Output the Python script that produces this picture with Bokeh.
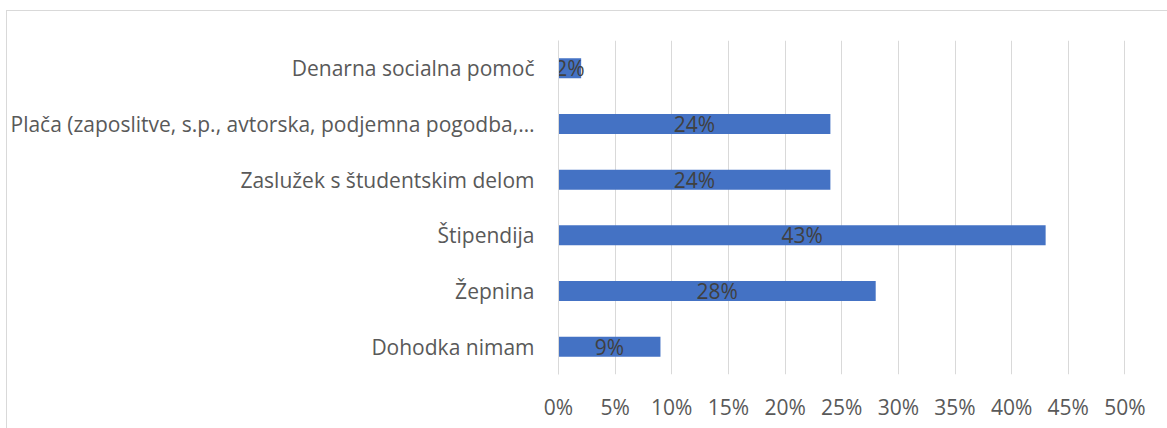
from bokeh.plotting import figure
from bokeh.models import Range1d, FactorRange, FixedTicker, ColumnDataSource, CustomJSTickFormatter
from bokeh.core.properties import value
from bokeh.embed import file_html
from bokeh.resources import INLINE

categories = [
    "Dohodka nimam",
    "Žepnina",
    "Štipendija",
    "Zaslužek s študentskim delom",
    "Plača (zaposlitve, s.p., avtorska, podjemna pogodba,…",
    "Denarna socialna pomoč",
]
values = [0.09, 0.28, 0.43, 0.24, 0.24, 0.02]
value_labels = ["9%", "28%", "43%", "24%", "24%", "2%"]
x_ticks = [0.0, 0.05, 0.10, 0.15, 0.20, 0.25, 0.30, 0.35, 0.40, 0.45, 0.50]

FONT = "Open Sans"

src = ColumnDataSource(dict(
    cat=categories,
    val=values,
    mid=[v / 2 for v in values],
    lab=value_labels,
))

p = figure(
    width=1161, height=418,
    y_range=FactorRange(*categories),
    x_range=Range1d(0, 0.5005),
    output_backend="svg", toolbar_location=None,
    min_border_left=550, min_border_right=43,
    min_border_top=29, min_border_bottom=55,
)
p.styles = {"border-left": "1px solid #d9d9d9", "border-top": "1px solid #d9d9d9",
            "margin-top": "10px", "margin-left": "6px"}
p.outline_line_color = None
p.background_fill_color = "white"
p.border_fill_color = "white"

p.hbar(y="cat", right="val", left=0, height=0.36, source=src,
       fill_color="#4472C4", line_color=None)

p.text(x="mid", y="cat", text="lab", source=src,
       text_align="center", text_baseline="middle",
       text_font=value(FONT), text_font_size="21px", text_color="#404040")

# axes
p.xaxis.ticker = FixedTicker(ticks=x_ticks)
p.xaxis.formatter = CustomJSTickFormatter(code="return Math.round(tick*100) + '%';")
p.xaxis.axis_line_color = None
p.xaxis.major_tick_line_color = None
p.xaxis.minor_tick_line_color = None
p.xaxis.major_label_text_font = FONT
p.xaxis.major_label_text_font_size = "21px"
p.xaxis.major_label_text_color = "#595959"
p.xaxis.major_label_standoff = 12

p.yaxis.axis_line_color = "#d9d9d9"
p.yaxis.axis_line_width = 1
p.yaxis.major_tick_line_color = None
p.yaxis.minor_tick_line_color = None
p.yaxis.major_label_text_font = FONT
p.yaxis.major_label_text_font_size = "21px"
p.yaxis.major_label_text_color = "#595959"
p.yaxis.major_label_standoff = 18

p.xgrid.ticker = FixedTicker(ticks=x_ticks)
p.xgrid.grid_line_color = "#d9d9d9"
p.xgrid.grid_line_width = 1
p.ygrid.grid_line_color = None

open("out.html", "w").write(file_html(p, INLINE))
